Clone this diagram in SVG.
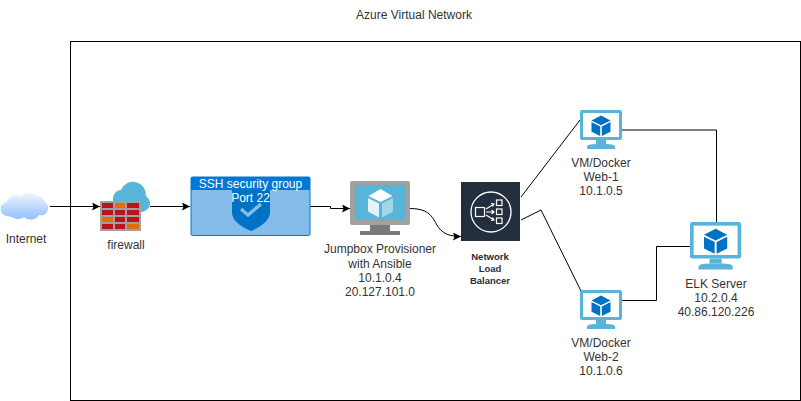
<svg xmlns="http://www.w3.org/2000/svg" width="801" height="401" viewBox="0 0 801 401">
<defs>
<style>
text{font-family:"Liberation Sans",Arial,sans-serif;font-size:12px;fill:#333;text-anchor:middle}
.c{fill:none;stroke:#000;stroke-width:1}
.b{fill:#0072c6}
.nlbt{font-size:9.500px;font-weight:bold;fill:#232f3e}
</style>
<marker id="a" viewBox="0 0 8 8" refX="8" refY="4" markerWidth="8" markerHeight="8" markerUnits="userSpaceOnUse" orient="auto"><path d="M0 0L8 4L0 8L1.500 4Z" fill="#000"/></marker>
<linearGradient id="cg" x1="0" y1="0" x2="0" y2="1"><stop offset="0" stop-color="#f2f7ff"/><stop offset="1" stop-color="#8ec0fb"/></linearGradient>
<g id="vm">
<rect x="0" y="0" width="42" height="30" rx="2" fill="#59b4d9"/>
<rect x="3" y="3" width="36" height="24" fill="#fff"/>
<path d="M16 30h10v4h-10z" fill="#59b4d9"/>
<path d="M7 39V36.500Q7 34 16 34h10Q35 34 35 36.500V39z" fill="#59b4d9"/>
<path d="M21 5.500l9.500 5-9.500 4.700-9.500-4.700z" fill="#0072c6"/>
<path d="M11.500 12l8.700 4.400V26l-8.700-4.200z" fill="#0072c6"/>
<path d="M30.500 12l-8.700 4.400V26l8.700-4.200z" fill="#0072c6"/>
</g>
</defs>
<rect width="801" height="401" fill="#fff"/>
<text x="414" y="19">Azure Virtual Network</text>
<rect id="vnet" x="70.500" y="41.500" width="730" height="359" fill="none" stroke="#000" stroke-width="1"/>
<g id="connectors">
<path class="c" d="M50 206.500H100" marker-end="url(#a)"/>
<path class="c" d="M150 206.500H190" marker-end="url(#a)"/>
<path class="c" d="M310 206.500H330.500V208.500H350" marker-end="url(#a)"/>
<path class="c" d="M410 208.500C445 208.500 426 236.500 461 236.500" marker-end="url(#a)"/>
<path class="c" d="M521 197L580 120"/>
<path class="c" d="M521 220L541 210L581 291"/>
<path class="c" d="M622 130H716.500V222"/>
<path class="c" d="M622 300.500H656.500V246.500H690"/>
</g>
<g id="internet">
<path d="M8 216a7 7 0 0 1-1-14a9 9 0 0 1 13-6a12 12 0 0 1 17 0a9 9 0 0 1 8 6a7 7 0 0 1 3 7a7 7 0 0 1-9 6a10 10 0 0 1-15 2a10 10 0 0 1-12 0a6 6 0 0 1-4-1z" fill="url(#cg)"/>
<text x="26" y="243">Internet</text>
</g>
<g id="firewall">
<path d="M113 201a9 9 0 0 1 8-11a13 13 0 0 1 25 6a10 10 0 0 1 4 8a10 10 0 0 1-8 8H113z" fill="#59b4d9"/>
<rect x="100" y="201" width="41" height="30" fill="#a0a0a0"/>
<g fill="#ba141a">
<rect x="102" y="203" width="11" height="5"/><rect x="127" y="203" width="12" height="5"/>
<rect x="102" y="210" width="11" height="5"/><rect x="115" y="210" width="10" height="5"/><rect x="127" y="210" width="12" height="5"/>
<rect x="115" y="217" width="10" height="5"/><rect x="127" y="217" width="12" height="5"/>
<rect x="102" y="224" width="11" height="5"/><rect x="115" y="224" width="10" height="5"/>
</g>
<g fill="#e36c0a">
<rect x="115" y="203" width="10" height="5"/><rect x="102" y="217" width="11" height="5"/><rect x="127" y="224" width="12" height="5"/>
</g>
<text x="126" y="249">firewall</text>
</g>
<g id="ssh">
<rect x="191" y="177" width="119" height="58.500" rx="1.500" fill="#83bbe9" stroke="#0078d4"/>
<rect x="191" y="177" width="119" height="13" fill="#0078d4"/>
<path d="M232 190H270V214Q268 224 251 231Q234 224 232 214z" class="b"/>
<path d="M241 209l7 6 13-11" fill="none" stroke="#83bbe9" stroke-width="3.500"/>
<text x="250.500" y="188" style="fill:#fff">SSH security group</text>
<text x="250.500" y="202" style="fill:#fff">Port 22</text>
</g>
<g id="jumpbox">
<rect x="350" y="181" width="60" height="44" rx="2" fill="#a0a1a2"/>
<rect x="355" y="185" width="50" height="35" fill="#59b4d9"/>
<path d="M370 225h20v6h10v4h-40v-4h10z" fill="#7a7a7a"/>
<path d="M380.500 189l12 7-12 6-12-6z" fill="#fff"/>
<path d="M368 198l11 5.500v14l-11-6z" fill="#e4f3f9"/>
<path d="M393 198l-11 5.500v14l11-6z" fill="#a5d6e8"/>
<text x="380" y="253">Jumpbox Provisioner</text>
<text x="380" y="268">with Ansible</text>
<text x="380" y="282">10.1.0.4</text>
<text x="380" y="296">20.127.101.0</text>
</g>
<g id="nlb">
<rect x="461" y="182" width="59" height="59" fill="#232f3e"/>
<circle cx="491" cy="212" r="20" fill="none" stroke="#fff" stroke-width="1.300"/>
<g fill="none" stroke="#fff" stroke-width="1.200">
<rect x="475.500" y="207.500" width="9" height="9"/>
<rect x="496.500" y="200" width="5.500" height="5.500"/><rect x="496.500" y="209" width="5.500" height="5.500"/><rect x="496.500" y="218" width="5.500" height="5.500"/>
<path d="M486 209L494 204M491 203.500L494 204L492.500 206.500M486 212H494M491.500 210L494 212L491.500 214M486 215L494 220M492.500 217.500L494 220L491 220.500"/>
</g>
<text class="nlbt" x="490" y="260">Network</text>
<text class="nlbt" x="490" y="272">Load</text>
<text class="nlbt" x="490" y="284">Balancer</text>
</g>
<g id="web1">
<use href="#vm" x="580" y="110"/>
<text x="601" y="167">VM/Docker</text>
<text x="601" y="181">Web-1</text>
<text x="601" y="195">10.1.0.5</text>
</g>
<g id="web2">
<use href="#vm" x="580" y="290"/>
<text x="601" y="347">VM/Docker</text>
<text x="601" y="361">Web-2</text>
<text x="601" y="375">10.1.0.6</text>
</g>
<g id="elk">
<use href="#vm" transform="translate(690,222) scale(1.220)"/>
<text x="716" y="288">ELK Server</text>
<text x="716" y="302">10.2.0.4</text>
<text x="716" y="316">40.86.120.226</text>
</g>
</svg>
